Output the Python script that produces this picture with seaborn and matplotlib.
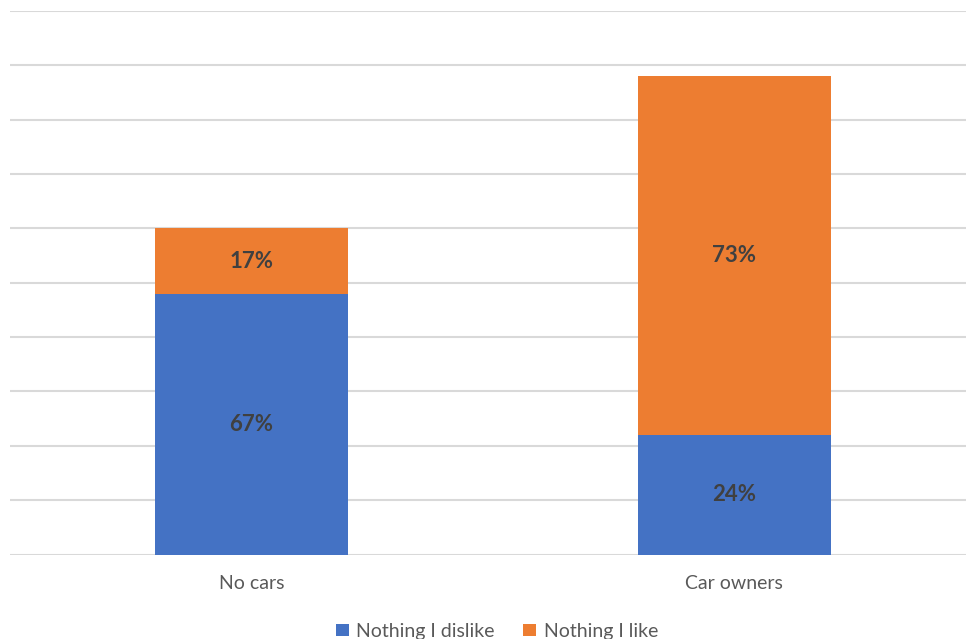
import matplotlib
matplotlib.use("Agg")
import matplotlib.pyplot as plt
import seaborn as sns
import numpy as np
from matplotlib.patches import Patch

categories = ["No cars", "Car owners"]
nothing_dislike = [4.8, 2.2]
nothing_like = [1.2, 6.6]
dislike_labels = ["67%", "24%"]
like_labels = ["17%", "73%"]
series_names = ["Nothing I dislike", "Nothing I like"]

blue = "#4472C4"
orange = "#ED7D31"

sns.set_theme(style="white")
plt.rcParams['font.family'] = ['Lato', 'DejaVu Sans']

fig = plt.figure(figsize=(9.66, 6.39), dpi=100)
ax = fig.add_axes([10.25 / 966, (639 - 554.5) / 639, 965 / 966, 543.5 / 639])

totals = [d + l for d, l in zip(nothing_dislike, nothing_like)]
sns.barplot(x=categories, y=totals, color=orange, width=0.4, ax=ax,
            saturation=1, edgecolor="none", zorder=3)
sns.barplot(x=categories, y=nothing_dislike, color=blue, width=0.4, ax=ax,
            saturation=1, edgecolor="none", zorder=3)

for i in range(len(categories)):
    ax.text(i, nothing_dislike[i] / 2, dislike_labels[i], ha="center", va="center",
            fontsize=16, fontweight="bold", color="#404040", zorder=5)
    ax.text(i, nothing_dislike[i] + nothing_like[i] / 2, like_labels[i], ha="center",
            va="center", fontsize=16, fontweight="bold", color="#404040", zorder=5)

ax.set_ylim(0, 10)
ax.set_xlim(-0.5, 1.5)
ax.set_yticks(np.arange(0, 11, 1))
ax.set_yticklabels([])
ax.yaxis.grid(True, color="#D9D9D9", linewidth=1.5, zorder=0)
ax.set_axisbelow(True)
for s in ax.spines.values():
    s.set_visible(False)
ax.tick_params(axis="x", length=0, pad=14.5, labelsize=14, labelcolor="#595959")
ax.tick_params(axis="y", length=0)
ax.set_xlabel("")
ax.set_ylabel("")

handles = [Patch(facecolor=blue, edgecolor="none"), Patch(facecolor=orange, edgecolor="none")]
leg = fig.legend(handles, series_names, loc="center", bbox_to_anchor=(0.5145, 0.012),
                 ncol=2, frameon=False, fontsize=14, handlelength=0.65, handleheight=0.65,
                 handletextpad=0.4, columnspacing=1.45, labelcolor="#595959")

fig.savefig("out.png", dpi=100)
